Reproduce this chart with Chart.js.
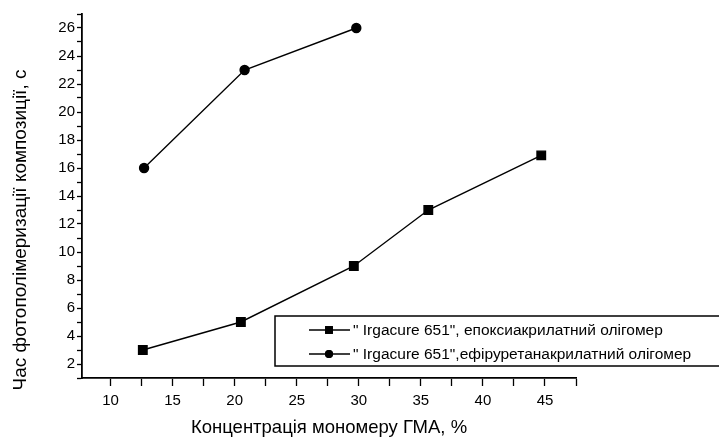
<!DOCTYPE html>
<html>
<head>
<meta charset="utf-8">
<script src="https://cdn.jsdelivr.net/npm/chart.js@4"></script>
<style>
  html, body { margin: 0; padding: 0; background: #fff; }
  #wrap { width: 719px; height: 441px; }
</style>
</head>
<body>
<div id="wrap"><canvas id="c" width="719" height="441"></canvas></div>
<script>
// данi зчитанi з графiка
const epoxyX = [12.6, 20.5, 29.6, 35.6, 44.7];
const epoxyY = [3, 5, 9, 13, 16.9];
const urethaneX = [12.7, 20.8, 29.8];
const urethaneY = [16, 23, 26];

const seriesLabels = [
  '" Irgacure 651", епоксиакрилатний олігомер',
  '" Irgacure 651",ефіруретанакрилатний олігомер'
];
const xTitle = 'Концентрація мономеру ГМА, %';
const yTitle = 'Час фотополімеризації композиції, с';

const FONT = '"Liberation Sans", Arial, sans-serif';

function pts(xs, ys) {
  return xs.map((x, i) => ({ x: x, y: ys[i] }));
}

// легенда в рамцi всерединi графiка + назва осi Y
const boxLegend = {
  id: 'boxLegend',
  afterDraw(chart) {
    const ctx = chart.ctx;
    const a = chart.chartArea;
    const x0 = a.left + 193, y0 = a.top + 302;
    ctx.save();
    ctx.strokeStyle = '#000';
    ctx.lineWidth = 1.5;
    ctx.strokeRect(x0, y0, 470, 50);
    ctx.font = '15.5px ' + FONT;
    ctx.fillStyle = '#000';
    ctx.textBaseline = 'middle';
    chart.data.datasets.forEach((ds, i) => {
      const y = y0 + 14 + i * 24;
      ctx.lineWidth = 1.4;
      ctx.beginPath();
      ctx.moveTo(x0 + 34, y);
      ctx.lineTo(x0 + 75, y);
      ctx.stroke();
      Chart.helpers.drawPoint(ctx, { pointStyle: ds.pointStyle, radius: ds.pointRadius - 0.5, borderWidth: 0 }, x0 + 54, y);
      ctx.fill();
      ctx.fillText(ds.label, x0 + 78, y + 1);
    });
    ctx.save();
    ctx.translate(21, 230);
    ctx.rotate(-Math.PI / 2);
    ctx.textAlign = 'center';
    ctx.font = '19px ' + FONT;
    ctx.fillText(yTitle, 0, 0);
    ctx.restore();
    ctx.restore();
  }
};

new Chart(document.getElementById('c'), {
  type: 'line',
  data: {
    datasets: [
      {
        label: seriesLabels[0],
        data: pts(epoxyX, epoxyY),
        borderColor: '#000',
        backgroundColor: '#000',
        borderWidth: 1.4,
        pointStyle: 'rect',
        pointRadius: 6,
        tension: 0
      },
      {
        label: seriesLabels[1],
        data: pts(urethaneX, urethaneY),
        borderColor: '#000',
        backgroundColor: '#000',
        borderWidth: 1.4,
        pointStyle: 'circle',
        pointRadius: 4.5,
        tension: 0
      }
    ]
  },
  options: {
    responsive: false,
    animation: false,
    layout: { padding: { top: 14, right: 143, left: 0, bottom: 0 } },
    plugins: {
      legend: { display: false },
      tooltip: { enabled: false }
    },
    scales: {
      x: {
        type: 'linear',
        min: 7.7,
        max: 47.5,
        afterBuildTicks: (s) => {
          const t = [];
          for (let v = 10; v <= 47.5; v += 2.5) t.push({ value: v });
          s.ticks = t;
        },
        afterFit: (s) => { s.height = 63; },
        border: { color: '#000', width: 1.8 },
        grid: { drawOnChartArea: false, tickLength: 8, color: '#000', tickWidth: 1.3 },
        ticks: {
          color: '#000',
          font: { family: FONT, size: 15 },
          padding: 6,
          maxRotation: 0,
          autoSkip: false,
          callback: (v) => (v % 5 === 0 ? v : '')
        },
        title: {
          display: true,
          text: xTitle,
          color: '#000',
          font: { family: FONT, size: 18.5 },
          padding: { bottom: 2, top: 0 }
        }
      },
      y: {
        min: 1,
        max: 27,
        afterBuildTicks: (s) => {
          const t = [];
          for (let v = 1; v <= 27; v++) t.push({ value: v });
          s.ticks = t;
        },
        afterFit: (s) => { s.width = 82; },
        border: { color: '#000', width: 1.8 },
        grid: { drawOnChartArea: false, tickLength: 5, color: '#000', tickWidth: 1.3 },
        ticks: {
          color: '#000',
          font: { family: FONT, size: 15 },
          padding: 2,
          autoSkip: false,
          callback: (v) => (v % 2 === 0 ? v : '')
        }
      }
    }
  },
  plugins: [boxLegend]
});
</script>
</body>
</html>
